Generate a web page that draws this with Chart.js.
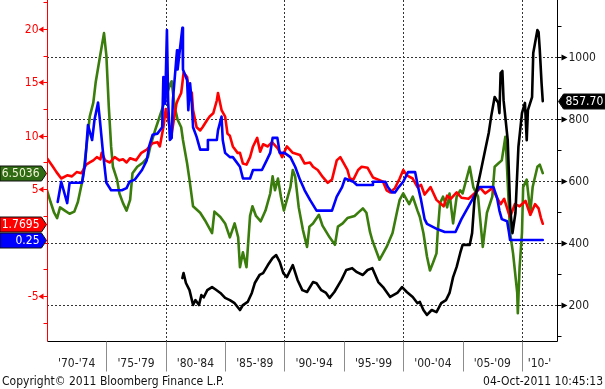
<!DOCTYPE html>
<html>
<head>
<meta charset="utf-8">
<script src="https://cdn.jsdelivr.net/npm/chart.js@4"></script>
<style>
    html, body { margin: 0; padding: 0; background: #fff; }
    canvas { display: block; }
</style>
</head>
<body>
<canvas id="chart" width="605" height="389"></canvas>
<script>
// ── Data ──────────────────────────────────────────────────
const periodLabels = ["'70-'74", "'75-'79", "'80-'84", "'85-'89", "'90-'94", "'95-'99", "'00-'04", "'05-'09", "'10-'"];
const periodStarts = [1970, 1975, 1980, 1985, 1990, 1995, 2000, 2005, 2010];
const leftTicks  = [20, 15, 10, 5, -5];
const rightTicks = [1000, 800, 600, 400, 200];
const gridYears  = [1980, 1990, 2000, 2010];

// red, left axis
const redYears = [1970.0, 1970.5, 1970.8, 1971.2, 1971.7, 1972.1, 1972.5, 1972.9, 1973.3, 1973.6, 1973.9, 1974.2, 1974.5, 1974.6, 1974.9,
    1975.3, 1975.7, 1976.1, 1976.4, 1976.7, 1977.0, 1977.5, 1977.95, 1978.4, 1978.9, 1979.3, 1979.5, 1979.8, 1980.0, 1980.3,
    1980.5, 1980.9, 1981.0, 1981.3, 1981.4, 1981.5, 1981.8, 1981.9, 1982.2, 1982.3, 1982.6, 1982.9, 1983.1, 1983.5, 1983.7,
    1984.0, 1984.3, 1984.4, 1984.7, 1985.0, 1985.2, 1985.4, 1985.65, 1986.05, 1986.25, 1986.5, 1986.8, 1987.1, 1987.35, 1987.7,
    1987.95, 1988.2, 1988.6, 1988.95, 1989.45, 1989.8, 1990.2, 1990.7, 1991.3, 1991.7, 1992.15, 1992.4, 1992.8, 1993.25, 1993.65,
    1994.0, 1994.4, 1994.7, 1995.3, 1995.5, 1995.8, 1996.2, 1996.5, 1997.0, 1997.45, 1997.9, 1998.3, 1998.6, 1998.9, 1999.3,
    1999.7, 2000.0, 2000.3, 2000.8, 2001.2, 2001.5, 2001.8, 2002.3, 2002.8, 2003.4, 2003.7, 2004.0, 2004.5, 2004.9, 2005.5,
    2005.9, 2006.5, 2006.9, 2007.5, 2007.9, 2008.2, 2008.5, 2008.9, 2009.0, 2009.4, 2009.8, 2010.3, 2010.7, 2011.1, 2011.4,
    2011.6, 2011.75];
const redVals = [7.9, 7.1, 6.6, 6.0, 6.3, 6.2, 6.6, 6.5, 7.3, 7.5, 7.7, 8.0, 7.8, 8.4, 7.7,
    7.5, 8.0, 7.7, 7.8, 7.5, 7.9, 7.7, 8.4, 8.7, 9.3, 9.4, 9.0, 10.8, 12.5, 11.0,
    10.2, 13.0, 13.3, 14.0, 14.9, 15.9, 15.5, 14.5, 14.0, 12.4, 10.8, 10.5, 10.8, 11.5, 11.8,
    12.1, 13.3, 14.0, 12.4, 11.8, 10.2, 10.0, 9.0, 8.4, 8.4, 7.4, 7.3, 8.0, 9.0, 9.8,
    8.5, 9.2, 9.0, 9.4, 8.8, 8.0, 9.0, 8.4, 8.2, 7.4, 7.5, 7.1, 6.8, 6.1, 5.6,
    5.9, 7.7, 8.0, 6.8, 6.0, 5.9, 6.8, 7.1, 7.0, 6.1, 5.9, 5.7, 4.9, 4.7, 5.1,
    6.0, 6.8, 6.3, 6.0, 5.2, 5.4, 4.5, 5.2, 4.0, 3.4, 4.4, 4.1, 4.7, 4.2, 4.1,
    4.5, 5.1, 4.6, 5.1, 4.2, 3.6, 4.1, 2.7, 2.4, 3.6, 3.4, 3.9, 2.6, 3.6, 3.2,
    2.3, 1.77];

// blue, left axis
const blueYears = [1970.9, 1971.2, 1971.7, 1971.9, 1972.95, 1973.2, 1973.45, 1973.8, 1974.0, 1974.3, 1974.45, 1974.7, 1975.0, 1975.4, 1976.3,
    1976.7, 1976.95, 1977.4, 1978.0, 1978.4, 1978.6, 1978.9, 1979.3, 1979.7, 1979.8, 1979.95, 1980.1, 1980.2, 1980.35, 1980.5,
    1980.6, 1980.95, 1981.0, 1981.4, 1981.45, 1981.8, 1981.9, 1982.05, 1982.2, 1982.3, 1982.6, 1982.9, 1983.5, 1983.55, 1984.3,
    1984.4, 1984.7, 1984.8, 1985.0, 1985.4, 1985.65, 1986.25, 1986.5, 1987.1, 1987.35, 1988.1, 1988.5, 1988.8, 1989.0, 1989.4,
    1989.6, 1990.0, 1990.5, 1990.9, 1991.3, 1991.7, 1992.15, 1992.7, 1994.0, 1994.4, 1994.85, 1995.1, 1995.8, 1996.1, 1997.4,
    1997.45, 1998.5, 1998.7, 1999.05, 1999.3, 1999.55, 2000.0, 2000.4, 2001.0, 2001.25, 2001.5, 2001.8, 2002.0, 2002.9, 2003.5,
    2004.4, 2004.9, 2005.5, 2006.0, 2006.4, 2007.6, 2007.9, 2008.1, 2008.3, 2008.75, 2008.9, 2009.0, 2011.75];
const blueVals = [3.8, 5.7, 3.7, 5.6, 5.6, 7.3, 11.0, 9.6, 11.5, 13.1, 11.5, 8.6, 5.6, 4.9, 4.9,
    5.1, 5.7, 5.9, 6.8, 7.7, 9.0, 10.1, 10.2, 10.8, 15.5, 13.0, 19.9, 13.3, 9.6, 9.8,
    13.3, 18.0, 16.2, 20.1, 16.2, 15.2, 12.4, 14.9, 13.0, 10.8, 9.9, 8.7, 8.7, 9.6, 9.6,
    10.5, 11.8, 9.6, 8.4, 8.0, 8.0, 7.1, 6.0, 6.0, 6.8, 6.8, 7.7, 8.4, 9.8, 9.8,
    8.4, 8.4, 8.0, 7.1, 5.9, 4.9, 4.0, 3.0, 3.0, 4.3, 5.2, 6.0, 5.7, 5.4, 5.4,
    5.7, 5.7, 5.2, 4.7, 4.7, 5.1, 5.7, 6.6, 6.6, 5.2, 4.0, 2.2, 1.75, 1.25, 1.0,
    1.0, 2.2, 3.4, 4.4, 5.2, 5.2, 4.2, 3.0, 2.2, 2.0, 1.0, 0.25, 0.25];

// green, left axis
const greenYears = [1970.0, 1970.3, 1970.6, 1970.85, 1971.1, 1971.5, 1971.9, 1972.3, 1972.6, 1973.0, 1973.3, 1973.6, 1973.9, 1974.1, 1974.4,
    1974.8, 1975.0, 1975.2, 1975.4, 1975.55, 1975.9, 1976.1, 1976.4, 1976.7, 1977.0, 1977.2, 1977.6, 1978.1, 1978.5, 1978.7,
    1979.1, 1979.4, 1979.7, 1980.0, 1980.4, 1980.5, 1980.75, 1981.0, 1981.3, 1981.45, 1981.8, 1982.0, 1982.3, 1982.9, 1983.3,
    1983.9, 1984.1, 1984.6, 1985.0, 1985.4, 1985.8, 1986.1, 1986.25, 1986.5, 1986.8, 1987.1, 1987.3, 1987.6, 1988.0, 1988.4,
    1988.8, 1989.0, 1989.2, 1989.45, 1989.7, 1989.95, 1990.5, 1990.7, 1990.9, 1991.2, 1991.55, 1991.9, 1992.1, 1992.4, 1992.9,
    1993.2, 1993.8, 1994.25, 1994.5, 1994.9, 1995.3, 1995.9, 1996.3, 1996.6, 1996.9, 1997.2, 1997.4, 1998.0, 1998.6, 1999.1,
    1999.5, 1999.7, 2000.0, 2000.3, 2000.5, 2000.8, 2001.2, 2001.4, 2001.7, 2002.0, 2002.25, 2002.5, 2002.8, 2002.9, 2003.1,
    2003.35, 2003.7, 2003.9, 2004.2, 2004.5, 2004.8, 2005.0, 2005.6, 2005.9, 2006.3, 2006.7, 2007.05, 2007.5, 2007.7, 2008.0,
    2008.3, 2008.6, 2008.7, 2009.0, 2009.25, 2009.6, 2009.65, 2009.8, 2010.0, 2010.1, 2010.4, 2010.7, 2010.9, 2011.3, 2011.5,
    2011.75];
const greenVals = [4.9, 3.8, 2.8, 2.3, 3.3, 3.0, 2.7, 2.9, 3.8, 5.9, 8.7, 11.8, 13.1, 15.0, 17.0,
    19.6, 17.5, 12.8, 9.0, 7.1, 5.9, 4.6, 3.7, 3.0, 4.0, 6.5, 7.1, 7.5, 8.0, 9.0,
    10.5, 11.5, 12.5, 13.6, 14.9, 15.1, 12.7, 11.5, 10.8, 9.6, 7.4, 5.9, 3.4, 2.8, 2.1,
    0.9, 2.9, 2.4, 1.8, 0.5, 1.8, 0.5, -2.3, -0.9, -2.3, 2.5, 3.4, 2.5, 2.0, 3.0,
    4.6, 6.2, 4.9, 6.0, 4.3, 3.0, 5.2, 6.8, 6.2, 3.3, 1.2, -0.4, 1.5, 1.8, 2.6,
    1.6, 0.5, -0.2, 1.5, 1.8, 2.3, 2.5, 2.9, 3.2, 2.8, 1.0, 0.2, -1.6, -0.4, 0.9,
    3.0, 4.0, 4.6, 4.0, 3.6, 4.3, 3.0, 2.4, 0.9, -1.3, -2.6, -1.9, -1.0, 0.9, 3.7,
    4.3, 3.3, 4.6, 1.8, 4.3, 4.9, 4.6, 7.1, 5.2, 4.3, -0.4, 2.8, 4.3, 7.1, 7.4,
    7.7, 9.9, 8.0, 0.9, -1.0, -4.7, -6.6, -2.3, 0.9, 5.2, 5.9, 2.8, 5.2, 7.1, 7.3,
    6.5036];

// black, right axis
const blackYears = [1981.4, 1981.5, 1981.7, 1982.0, 1982.3, 1982.5, 1982.8, 1983.0, 1983.2, 1983.5, 1983.9, 1984.2, 1984.6, 1985.0, 1985.4,
    1985.8, 1986.25, 1986.5, 1986.9, 1987.25, 1987.5, 1987.9, 1988.2, 1988.6, 1989.0, 1989.3, 1989.6, 1989.9, 1990.2, 1990.7,
    1991.1, 1991.5, 1991.9, 1992.4, 1992.7, 1993.1, 1993.5, 1993.8, 1994.2, 1994.8, 1995.2, 1995.7, 1996.1, 1996.6, 1997.0,
    1997.4, 1997.9, 1998.3, 1998.9, 1999.5, 1999.9, 2000.3, 2000.8, 2001.2, 2001.4, 2001.7, 2002.0, 2002.4, 2002.8, 2003.2,
    2003.6, 2003.9, 2004.2, 2004.5, 2004.8, 2005.0, 2005.6, 2005.8, 2006.0, 2006.5, 2006.9, 2007.2, 2007.4, 2007.7, 2008.0,
    2008.1, 2008.2, 2008.35, 2008.45, 2008.8, 2009.0, 2009.2, 2009.45, 2009.7, 2010.0, 2010.25, 2010.4, 2010.5, 2010.85, 2010.95,
    2011.3, 2011.4, 2011.5, 2011.65, 2011.75];
const blackVals = [287, 303, 271, 248, 200, 216, 200, 232, 225, 248, 258, 250, 239, 223, 216,
    206, 184, 200, 210, 239, 271, 297, 303, 329, 352, 361, 339, 303, 290, 329,
    281, 248, 242, 274, 270, 248, 239, 223, 242, 281, 313, 319, 306, 297, 313,
    319, 274, 258, 226, 239, 258, 242, 226, 206, 210, 184, 168, 184, 177, 206,
    216, 239, 290, 323, 368, 394, 394, 432, 539, 626, 700, 755, 807, 871, 852,
    819, 948, 955, 861, 732, 516, 432, 497, 710, 819, 852, 732, 829, 871, 1013,
    1087, 1080, 1023, 916, 857.70];

const lastLabels = [
    { axis: 'y',  value: 6.5036, text: '6.5036', fill: '#2E6B12', color: '#F4F4D8' },
    { axis: 'y',  value: 1.7695, text: '1.7695', fill: '#FF0000', color: '#FFFFFF' },
    { axis: 'y',  value: 0.25,   text: '0.25',   fill: '#0000FF', color: '#FFFFFF' },
    { axis: 'y2', value: 857.70, text: '857.70', fill: '#000000', color: '#FFFFFF' }
];

const FONT = '12px "DejaVu Sans Condensed", "DejaVu Sans", sans-serif';

function pts(xs, ys) {
    return xs.map((x, i) => ({ x: x, y: ys[i] }));
}

// ── Axes, grid, labels drawn with the chart's scales ──────
const decor = {
    id: 'decor',
    beforeDatasetsDraw(chart) {
        const { ctx, chartArea: a, scales } = chart;
        ctx.save();
        ctx.strokeStyle = '#333';
        ctx.lineWidth = 1;
        ctx.setLineDash([2, 2]);
        rightTicks.forEach(v => {
            const y = Math.round(scales.y2.getPixelForValue(v)) + 0.5;
            ctx.beginPath(); ctx.moveTo(a.left, y); ctx.lineTo(a.right, y); ctx.stroke();
        });
        gridYears.forEach(yr => {
            const x = Math.round(scales.x.getPixelForValue(yr)) + 0.5;
            ctx.beginPath(); ctx.moveTo(x, a.top); ctx.lineTo(x, a.bottom); ctx.stroke();
        });
        ctx.restore();
    },
    afterDatasetsDraw(chart) {
        const { ctx, chartArea: a, scales } = chart;
        const L = Math.round(a.left) + 0.5, R = Math.round(a.right) + 0.5, B = Math.round(a.bottom) + 0.5;
        ctx.save();
        ctx.setLineDash([]);
        ctx.font = FONT;
        ctx.lineWidth = 1;

        // bottom + right axis lines
        ctx.strokeStyle = '#000';
        ctx.beginPath(); ctx.moveTo(L, B); ctx.lineTo(R, B); ctx.lineTo(R, a.top); ctx.stroke();

        // left axis (red)
        ctx.strokeStyle = '#FF0000';
        ctx.fillStyle = '#FF0000';
        ctx.beginPath(); ctx.moveTo(L, a.top); ctx.lineTo(L, B); ctx.stroke();
        for (let v = -7.5; v <= 22.5; v += 2.5) {
            const y = Math.round(scales.y.getPixelForValue(v)) + 0.5;
            ctx.beginPath(); ctx.moveTo(L - 4, y); ctx.lineTo(L, y); ctx.stroke();
        }
        ctx.textAlign = 'right';
        ctx.textBaseline = 'middle';
        leftTicks.forEach(v => {
            const y = Math.round(scales.y.getPixelForValue(v)) + 0.5;
            ctx.beginPath(); ctx.moveTo(L - 9, y); ctx.lineTo(L - 4, y - 3); ctx.lineTo(L - 4, y + 3); ctx.closePath(); ctx.fill();
            ctx.beginPath(); ctx.moveTo(L - 4, y); ctx.lineTo(L, y); ctx.stroke();
            ctx.fillText(String(v), L - 9, y);
        });

        // right axis (black)
        ctx.strokeStyle = '#000';
        ctx.fillStyle = '#000';
        for (let v = 100; v <= 1100; v += 100) {
            const y = Math.round(scales.y2.getPixelForValue(v)) + 0.5;
            ctx.beginPath(); ctx.moveTo(R, y); ctx.lineTo(R + 4, y); ctx.stroke();
        }
        ctx.textAlign = 'left';
        ctx.fillStyle = '#222';
        rightTicks.forEach(v => {
            const y = Math.round(scales.y2.getPixelForValue(v)) + 0.5;
            ctx.fillStyle = '#000';
            ctx.beginPath(); ctx.moveTo(R + 10, y); ctx.lineTo(R + 4, y - 3); ctx.lineTo(R + 4, y + 3); ctx.closePath(); ctx.fill();
            ctx.fillStyle = '#222';
            ctx.fillText(String(v), R + 11, y);
        });

        // period separators and labels
        ctx.strokeStyle = '#8C8C8C';
        ctx.fillStyle = '#222';
        ctx.textAlign = 'center';
        periodStarts.forEach((yr, i) => {
            const x0 = scales.x.getPixelForValue(yr);
            const x1 = i + 1 < periodStarts.length ? scales.x.getPixelForValue(periodStarts[i + 1]) : a.right;
            if (i > 0) {
                const xs = Math.round(x0) + 0.5;
                ctx.beginPath(); ctx.moveTo(xs, B); ctx.lineTo(xs, B + 30); ctx.stroke();
            }
            ctx.fillText(periodLabels[i], (x0 + x1) / 2, B + 22);
        });

        // last value boxes
        lastLabels.forEach(lb => {
            const y = Math.round(scales[lb.axis].getPixelForValue(lb.value)) + 0.5;
            ctx.fillStyle = lb.fill;
            ctx.strokeStyle = '#111';
            ctx.beginPath();
            if (lb.axis === 'y') {
                ctx.moveTo(0, y - 7.5); ctx.lineTo(L - 6, y - 7.5); ctx.lineTo(L - 1, y);
                ctx.lineTo(L - 6, y + 7.5); ctx.lineTo(0, y + 7.5);
            } else {
                ctx.moveTo(R + 1, y); ctx.lineTo(R + 6, y - 7.5); ctx.lineTo(605, y - 7.5);
                ctx.lineTo(605, y + 7.5); ctx.lineTo(R + 6, y + 7.5);
            }
            ctx.closePath();
            ctx.fill();
            ctx.stroke();
            ctx.fillStyle = lb.color;
            if (lb.axis === 'y') {
                ctx.textAlign = 'right';
                ctx.fillText(lb.text, L - 8, y + 0.5);
            } else {
                ctx.textAlign = 'left';
                ctx.fillText(lb.text, R + 8, y + 0.5);
            }
        });

        // footer
        ctx.fillStyle = '#111';
        ctx.textBaseline = 'alphabetic';
        ctx.textAlign = 'left';
        ctx.fillText('Copyright\u00A9 2011 Bloomberg Finance L.P.', 2, 385);
        ctx.textAlign = 'right';
        ctx.fillText('04-Oct-2011 10:45:13', 603, 385);
        ctx.restore();
    }
};

// ── Build chart ───────────────────────────────────────────
const ctx = document.getElementById('chart').getContext('2d');

new Chart(ctx, {
    type: 'line',
    data: {
        datasets: [
            { label: 'Black', data: pts(blackYears, blackVals), yAxisID: 'y2', borderColor: '#000000', order: 0 },
            { label: 'Blue',  data: pts(blueYears, blueVals),   yAxisID: 'y',  borderColor: '#0000FF', order: 1 },
            { label: 'Red',   data: pts(redYears, redVals),     yAxisID: 'y',  borderColor: '#FF0000', order: 2 },
            { label: 'Green', data: pts(greenYears, greenVals), yAxisID: 'y',  borderColor: '#3A7D0C', order: 3 }
        ]
    },
    options: {
        responsive: false,
        devicePixelRatio: 1,
        animation: false,
        parsing: true,
        datasets: {
            line: { borderWidth: 2.6, pointRadius: 0, tension: 0, fill: false, borderJoinStyle: 'round', borderCapStyle: 'round' }
        },
        layout: { padding: { left: 47, right: 48, top: 0, bottom: 48 } },
        plugins: { legend: { display: false }, tooltip: { enabled: false } },
        scales: {
            x:  { type: 'linear', min: 1970, max: 2012.95, display: false },
            y:  { type: 'linear', position: 'left',  min: -9.2, max: 22.7, display: false },
            y2: { type: 'linear', position: 'right', min: 84,   max: 1184, display: false }
        }
    },
    plugins: [decor]
});
</script>
</body>
</html>
